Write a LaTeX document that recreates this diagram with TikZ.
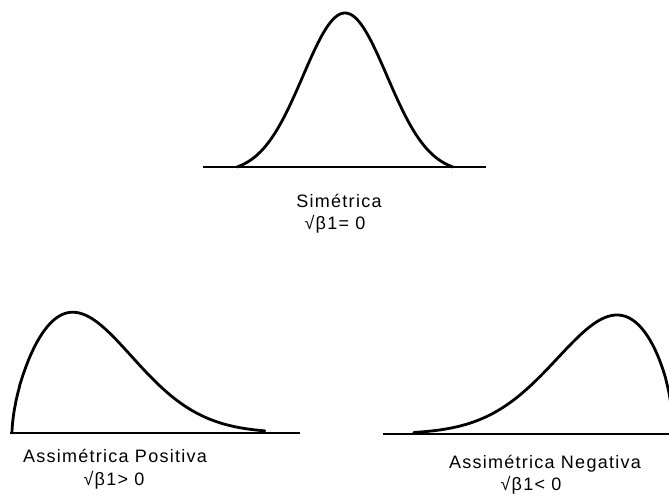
\documentclass[tikz,border=0pt]{standalone}
\usepackage{fontspec}
\setmainfont{Liberation Sans}[LetterSpace=7]
\begin{document}
\begin{tikzpicture}[x=1pt,y=-1pt,
  curve/.style={line width=2.8pt,line join=round,line cap=round},
  axisline/.style={line width=2.2pt},
  lbl/.style={anchor=base,inner sep=0pt,font=\fontsize{18}{20}\selectfont}]
\useasboundingbox (0,0) rectangle (669,496);
\clip (0,0) rectangle (669,496);
% top: symmetric
\coordinate (t0) at (203,167);
\coordinate (t1) at (486,167);
\draw[axisline] (t0) -- (t1);
\draw[curve] plot[domain=237:453,samples=100] (\x,{167-154*(exp(-0.5*((\x-345)/42)^2)-0.0367)/(1-0.0367)});
\node[lbl] (s1) at (339,207) {Simétrica};
\node[lbl] (s2) at (335,229) {√β1= 0};
% left: positive skew
\coordinate (l0) at (10,433);
\coordinate (l1) at (300,433);
\draw[axisline] (l0) -- (l1);
\draw[curve] (12,433) -- plot[domain=0.1:15.9,samples=160] ({12+\x*\x},{433-121*exp(0.6*ln(\x*\x/61))*exp(0.3-(\x*\x/111)^2)});
\node[lbl] (p1) at (115,462) {Assimétrica Positiva};
\node[lbl] (p2) at (114,485) {√β1> 0};
% right: negative skew
\coordinate (r0) at (383,434);
\coordinate (r1) at (669,434);
\draw[axisline] (r0) -- (r1);
\draw[curve] plot[domain=0.1:16.1,samples=160] ({673-\x*\x},{434-119*exp(0.5*ln(\x*\x/56))*exp(0.25-(\x*\x/112)^2)});
\node[lbl] (n1) at (545,468) {Assimétrica Negativa};
\node[lbl] (n2) at (531,490) {√β1< 0};
\end{tikzpicture}
\end{document}
